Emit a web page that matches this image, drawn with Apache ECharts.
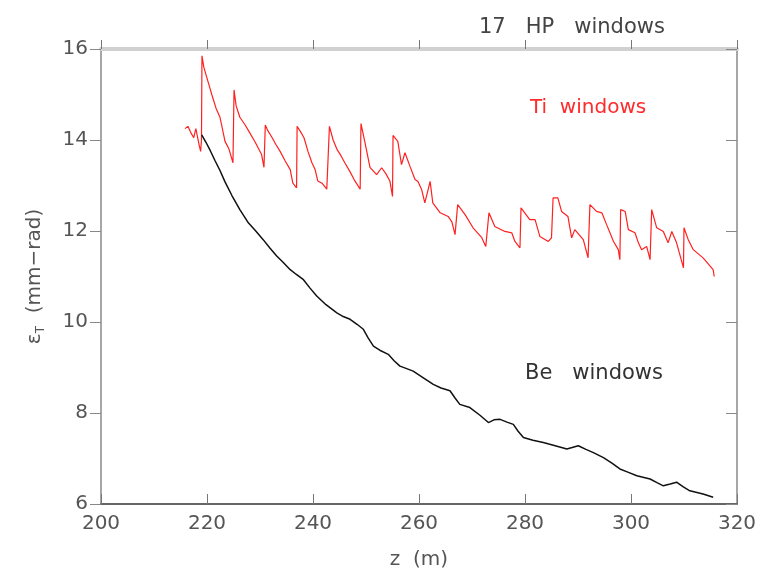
<!DOCTYPE html>
<html>
<head>
<meta charset="utf-8">
<script src="https://cdn.jsdelivr.net/npm/echarts@6/dist/echarts.min.js"></script>
<style>html,body{margin:0;padding:0;background:#fff}#c{width:765px;height:575px}</style>
</head>
<body>
<div id="c"></div>
<script>
const xTicks = [200, 220, 240, 260, 280, 300, 320];
const yTicks = [6, 8, 10, 12, 14, 16];
const tiZ = [215.85,216.4,217.0,217.5,217.9,218.5,218.8,218.96,219.05,219.4,219.9,220.4,220.9,221.7,222.45,223.4,224.15,224.9,225.1,225.5,226.2,227.2,228.1,229.1,230.3,230.75,231.0,231.5,232.3,233.0,233.8,234.7,235.7,236.2,236.9,237.0,237.55,238.3,239.05,239.8,240.4,240.9,241.7,242.6,243.1,243.8,244.5,245.3,246.0,247.0,247.9,248.9,249.05,249.8,250.75,252.0,252.96,253.8,254.5,255.0,255.1,256.0,256.7,257.35,258.3,259.25,259.8,260.5,261.1,261.7,262.1,262.6,264.0,265.5,266.2,266.8,267.3,268.7,270.2,271.8,272.6,273.2,274.3,276.2,277.5,278.1,279.05,279.25,280.9,281.9,282.8,284.4,285.0,285.3,286.2,286.9,288.1,288.8,289.4,289.75,291.0,291.9,292.25,293.5,294.5,295.4,296.7,297.6,297.9,298.05,298.9,299.5,300.75,301.4,302.0,302.95,303.6,303.9,304.85,306.1,307.0,307.7,308.6,309.9,310.0,310.8,311.75,313.6,315.5,315.7];
const tiE = [14.25,14.3,14.15,14.05,14.25,13.9,13.75,14.0,15.85,15.6,15.4,15.2,15.0,14.7,14.5,13.97,13.8,13.5,15.1,14.75,14.5,14.33,14.15,13.95,13.68,13.4,14.33,14.2,14.05,13.9,13.75,13.55,13.35,13.05,12.95,14.3,14.2,14.05,13.75,13.5,13.35,13.1,13.05,12.92,14.3,14.0,13.8,13.65,13.5,13.3,13.1,12.92,14.36,13.95,13.4,13.24,13.39,13.25,13.1,12.76,14.1,13.97,13.46,13.72,13.42,13.13,13.09,12.91,12.62,12.9,13.09,12.62,12.40,12.32,12.2,11.92,12.58,12.36,12.07,11.86,11.66,12.40,12.10,11.99,11.96,11.77,11.63,12.51,12.25,12.25,11.88,11.77,11.85,12.73,12.73,12.43,12.32,11.85,12.03,11.99,11.81,11.41,12.58,12.43,12.40,12.14,11.77,11.59,11.37,12.47,12.43,12.03,11.96,11.74,11.59,11.66,11.37,12.47,12.07,11.99,11.74,11.99,11.74,11.19,12.07,11.81,11.59,11.41,11.15,11.0];
const beZ = [219.0,219.3,219.8,220.6,221.5,222.45,223.4,224.7,226.2,227.8,229.2,230.6,231.9,233.15,234.3,235.7,236.8,238.2,239.4,240.7,242.45,244.5,245.7,247.0,248.3,249.5,250.4,251.4,252.6,254.2,255.3,256.4,257.55,258.9,260.75,262.7,264.15,265.85,266.8,267.7,269.6,271.5,273.1,274.15,275.3,276.6,277.8,278.7,279.7,281.5,283.45,285.7,287.9,288.9,290.05,291.5,292.9,294.8,296.4,297.9,299.4,301.1,303.6,304.9,306.1,307.4,308.6,309.8,311.1,313.6,315.5];
const beE = [14.11,14.08,13.95,13.77,13.55,13.33,13.08,12.78,12.47,12.18,12.0,11.81,11.62,11.45,11.32,11.15,11.05,10.93,10.75,10.57,10.38,10.20,10.12,10.06,9.95,9.84,9.65,9.47,9.38,9.29,9.15,9.03,8.98,8.92,8.78,8.63,8.55,8.49,8.33,8.19,8.12,7.95,7.79,7.85,7.86,7.80,7.75,7.60,7.46,7.40,7.35,7.28,7.21,7.24,7.28,7.20,7.13,7.02,6.90,6.77,6.70,6.62,6.55,6.47,6.40,6.44,6.48,6.38,6.29,6.22,6.15];

const FONT = 'DejaVu Sans';
const chart = echarts.init(document.getElementById('c'), null, {renderer: 'canvas'});
const xmin = xTicks[0], xmax = xTicks[xTicks.length-1];
const ymin = yTicks[0], ymax = yTicks[yTicks.length-1];
chart.setOption({
  animation: false,
  backgroundColor: '#fff',
  grid: {left: 101, right: 28, top: 49, bottom: 70},
  title: {
    text: '17   HP   windows', left: 474, top: 12,
    textStyle: {fontFamily: FONT, fontSize: 21, fontWeight: 'normal', color: '#444'}
  },
  graphic: [
    {type: 'text', left: 530, top: 98, style: {text: 'Ti  windows', fill: '#ff2a2a', font: '20px "DejaVu Sans"'}},
    {type: 'text', left: 525, top: 363, style: {text: 'Be   windows', fill: '#333', font: '21px "DejaVu Sans"'}}
  ],
  xAxis: [
    {
      type: 'value', position: 'bottom', min: xmin, max: xmax, interval: 20,
      name: 'z  (m)', nameLocation: 'middle', nameGap: 46,
      nameTextStyle: {fontFamily: FONT, fontSize: 20, color: '#555'},
      axisLine: {lineStyle: {color: '#666', width: 2}},
      axisTick: {inside: true, length: 10, lineStyle: {color: '#777', width: 1}},
      axisLabel: {fontFamily: FONT, fontSize: 20, color: '#555', margin: 10},
      splitLine: {show: false}
    },
    {
      type: 'value', position: 'top', min: xmin, max: xmax, interval: 20,
      axisLine: {lineStyle: {color: '#d0d0d0', width: 4}},
      axisTick: {inside: false, length: 9, lineStyle: {color: '#777', width: 1}},
      axisLabel: {show: false},
      splitLine: {show: false}
    }
  ],
  yAxis: [
    {
      type: 'value', position: 'left', min: ymin, max: ymax, interval: 2,
      name: '{e|ε}{s|T}{e|  (mm\u2212rad)}', nameLocation: 'middle', nameGap: 54,
      nameTextStyle: {rich: {
        e: {fontFamily: FONT, fontSize: 20, color: '#555'},
        s: {fontFamily: FONT, fontSize: 12, color: '#555', verticalAlign: 'bottom', padding: [12,0,0,0]}
      }},
      axisLine: {lineStyle: {color: '#888', width: 1.5}},
      axisTick: {inside: false, length: 11, lineStyle: {color: '#888', width: 1}},
      axisLabel: {fontFamily: FONT, fontSize: 20, color: '#555', margin: 13},
      splitLine: {show: false}
    },
    {
      type: 'value', position: 'right', min: ymin, max: ymax, interval: 2,
      axisLine: {lineStyle: {color: '#888', width: 1.5}},
      axisTick: {inside: true, length: 11, lineStyle: {color: '#888', width: 1}},
      axisLabel: {show: false},
      splitLine: {show: false}
    }
  ],
  series: [
    {
      name: 'Ti windows', type: 'line', xAxisIndex: 0, yAxisIndex: 0,
      data: tiZ.map((z, i) => [z, tiE[i]]),
      showSymbol: false, symbol: 'none',
      lineStyle: {color: '#ff2020', width: 1.2}
    },
    {
      name: 'Be windows', type: 'line', xAxisIndex: 0, yAxisIndex: 0,
      data: beZ.map((z, i) => [z, beE[i]]),
      showSymbol: false, symbol: 'none',
      lineStyle: {color: '#111', width: 1.5}
    }
  ]
});
</script>
</body>
</html>
